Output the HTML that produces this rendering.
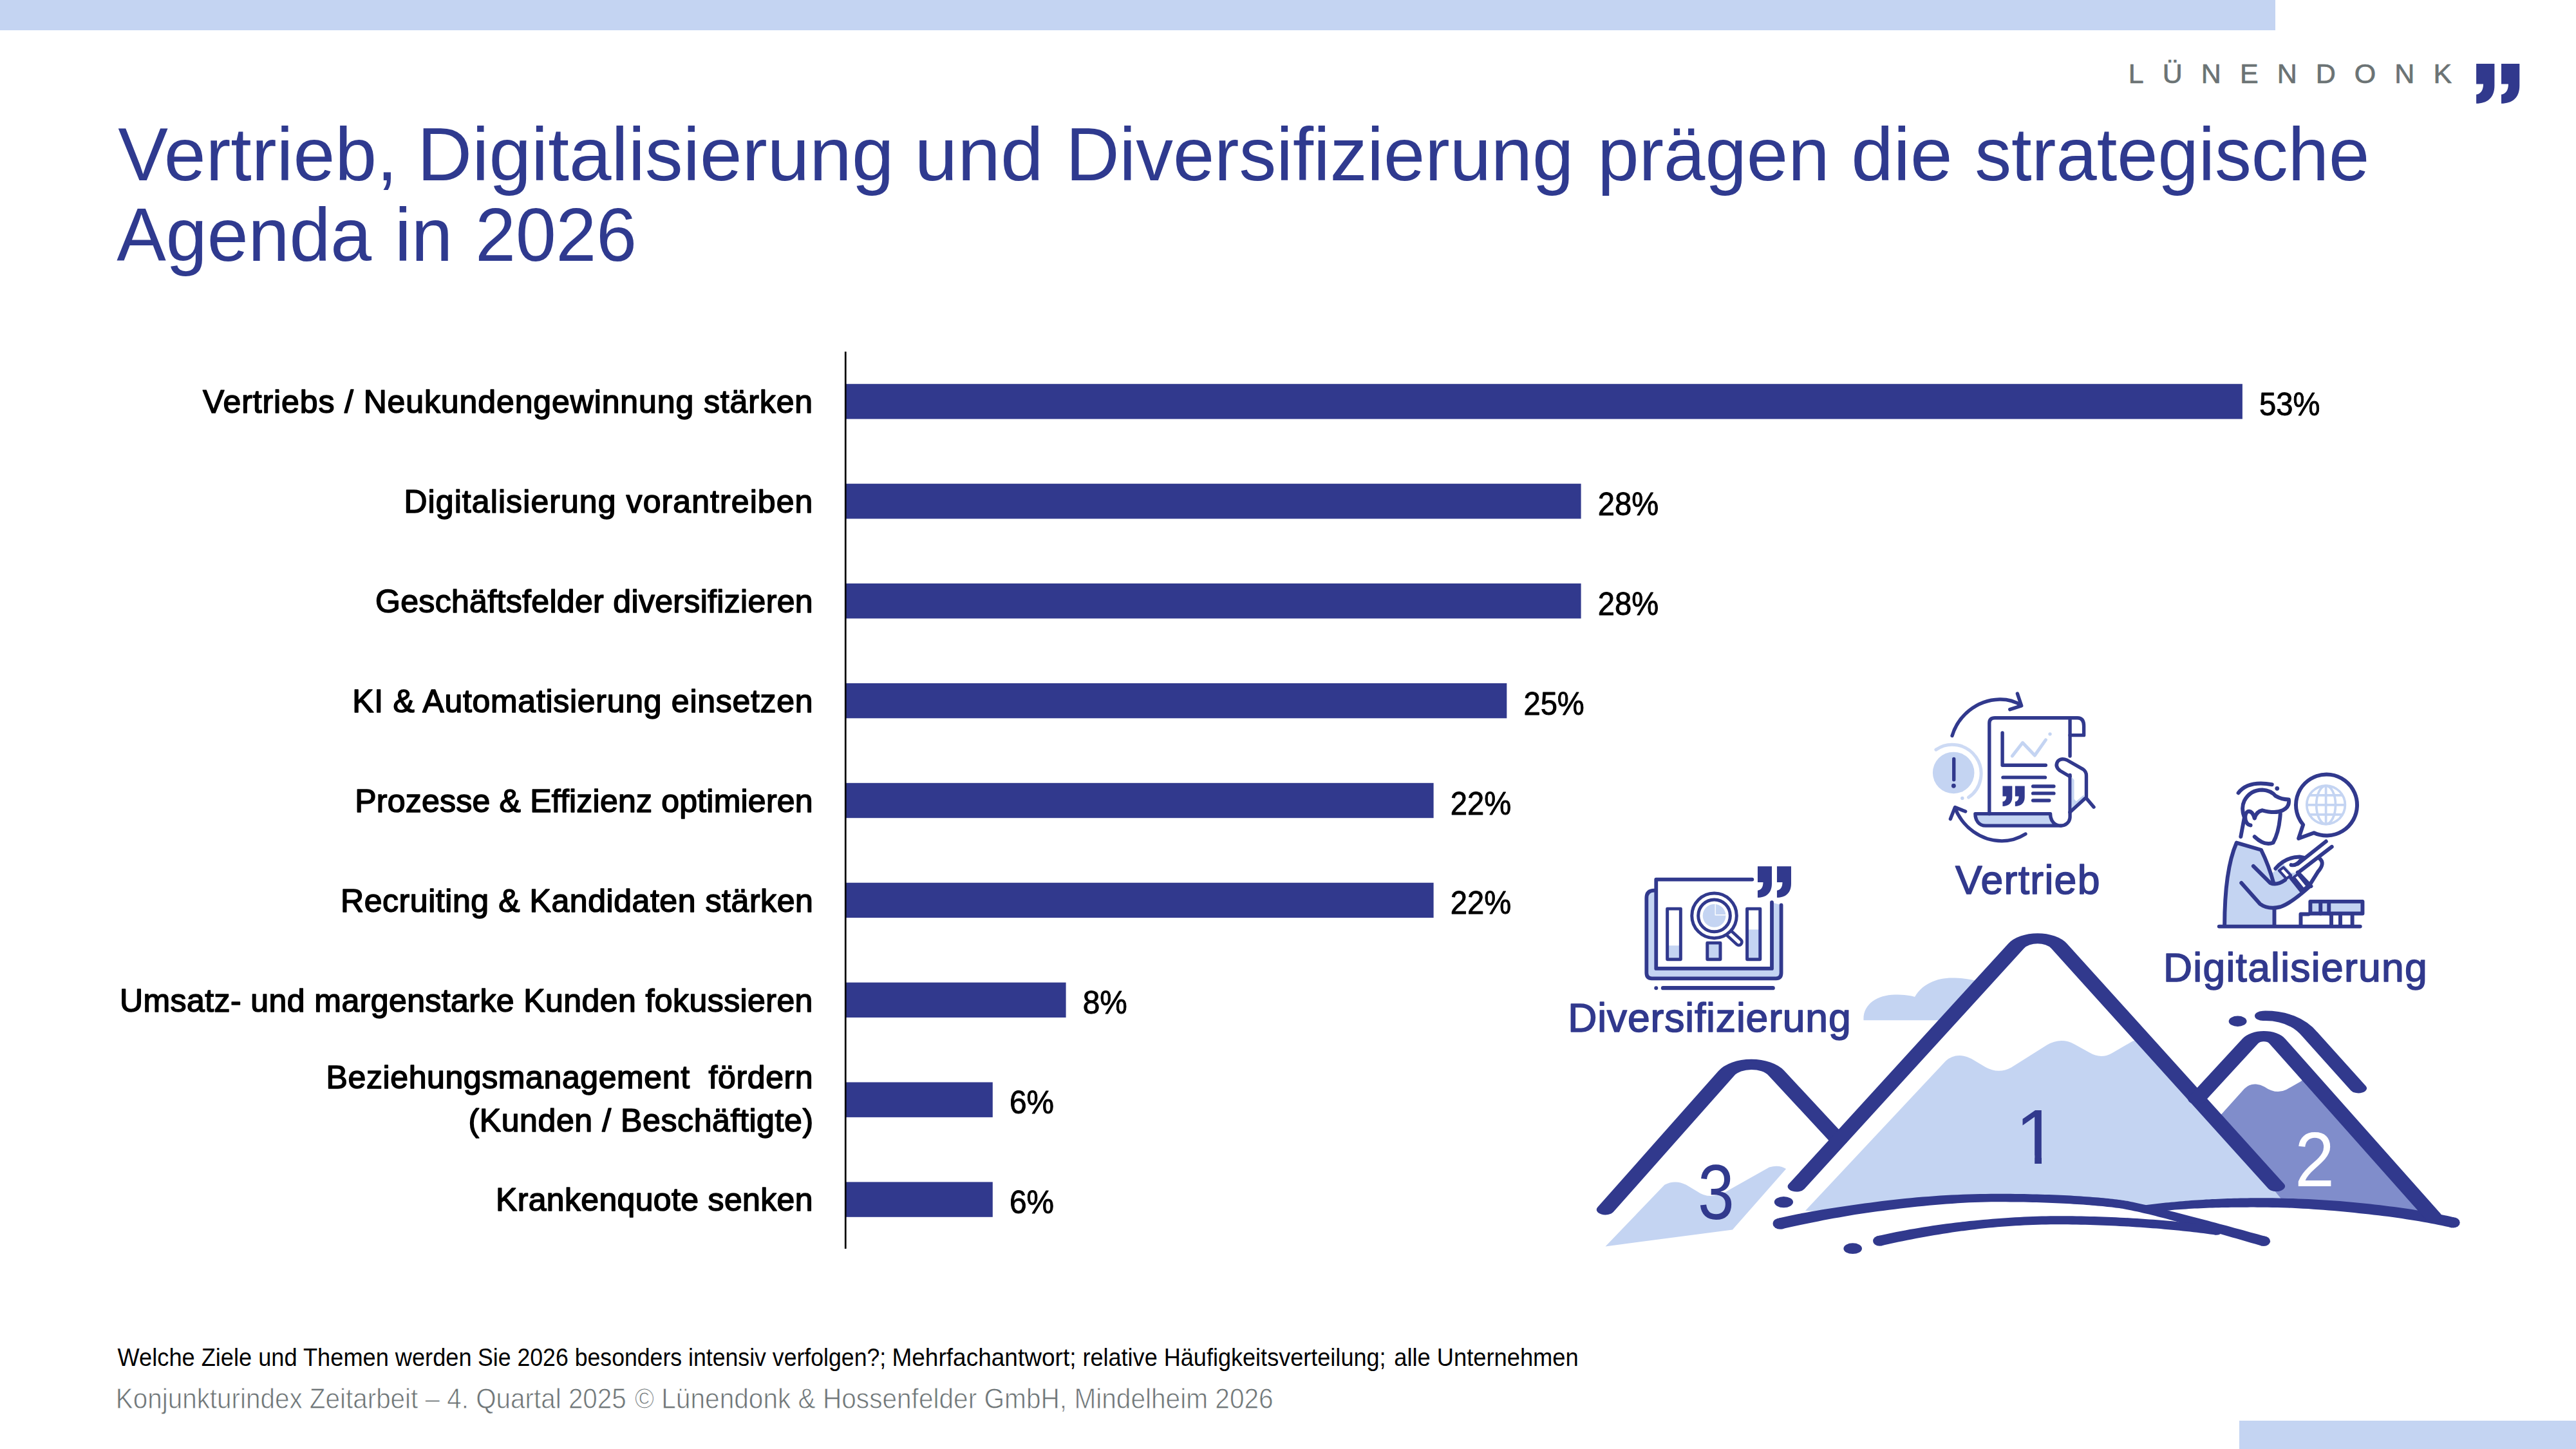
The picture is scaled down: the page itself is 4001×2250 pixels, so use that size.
<!DOCTYPE html>
<html lang="de"><head><meta charset="utf-8"><title>Lünendonk – Strategische Agenda 2026</title>
<style>html,body{margin:0;padding:0;background:#fff}body{width:4001px;height:2250px;overflow:hidden}svg{display:block;font-family:"Liberation Sans",sans-serif}</style></head><body>
<svg width="4001" height="2250" viewBox="0 0 4001 2250">
<rect x="0" y="0" width="3534" height="47" fill="#c4d4f2"/>
<rect x="3478" y="2206" width="523" height="44" fill="#c4d4f2"/>
<path fill="#31398d" d="M3846.10,99.00 L3874.40,99.00 L3874.40,132.94 C3874.40,152.00 3862.80,160.70 3846.10,160.70 L3846.10,146.63 C3852.89,145.77 3857.02,140.40 3857.02,130.47 L3846.10,130.47 Z"/>
<path fill="#31398d" d="M3885.00,99.00 L3913.30,99.00 L3913.30,132.94 C3913.30,152.00 3901.70,160.70 3885.00,160.70 L3885.00,146.63 C3891.79,145.77 3895.92,140.40 3895.92,130.47 L3885.00,130.47 Z"/>
<rect x="1313" y="596.2" width="2169.9" height="54.4" fill="#31398d"/>
<rect x="1313" y="751.1" width="1142.6" height="54.4" fill="#31398d"/>
<rect x="1313" y="906.0" width="1142.6" height="54.4" fill="#31398d"/>
<rect x="1313" y="1060.9" width="1027.3" height="54.4" fill="#31398d"/>
<rect x="1313" y="1215.8" width="913.6" height="54.4" fill="#31398d"/>
<rect x="1313" y="1370.7" width="913.6" height="54.4" fill="#31398d"/>
<rect x="1313" y="1525.6" width="342.6" height="54.4" fill="#31398d"/>
<rect x="1313" y="1680.5" width="228.8" height="54.4" fill="#31398d"/>
<rect x="1313" y="1835.4" width="228.8" height="54.4" fill="#31398d"/>
<rect x="1311.9" y="546" width="2.7" height="1393" fill="#000"/>
<g transform="scale(1.7,1)">
<path fill="#c4d4f2" d="M1702.65,1584.30C1701.76,1560.00 1714.71,1545.00 1731.18,1544.50C1740.00,1544.50 1745.88,1546.00 1749.41,1548.00C1755.88,1528.00 1769.41,1518.60 1783.53,1518.60C1794.12,1518.60 1801.18,1521.00 1810.59,1525.00L1779.41,1584.30Z"/>
<path fill="#fff" d="M1641.4,1842.4 L1842.0,1469.0 A22.3,22.3 0 0 1 1881.3,1469.0 L2079.6,1842.0 Z"/>
<path fill="#c4d4f2" d="M1649.41,1880.00L1777.65,1647.50Q1782.94,1639.00 1790.24,1639.00Q1795.29,1639.00 1801.18,1644.00L1813.71,1656.70Q1825.88,1668.50 1837.65,1657.50L1870.06,1622.80Q1882.94,1610.00 1895.29,1621.50L1909.12,1634.60Q1919.41,1645.00 1929.41,1635.50L1948.18,1616.90L1958.82,1610.00L2086.82,1861.30L2086.82,1866.00L2029.41,1868.50L1962.94,1876.00L1941.18,1870.60L1824.12,1860.00L1676.47,1882.00Z"/>
<path fill="#808dcb" d="M2021.18,1731.00L2029.41,1730.60L2050.59,1690.40Q2055.29,1682.50 2061.18,1683.50Q2065.29,1684.00 2068.82,1687.50Q2079.41,1700.00 2088.82,1692.00L2102.35,1679.00L2108.82,1668.00L2222.53,1888.00C2176.47,1872.00 2117.65,1865.50 2086.82,1867.00Z"/>
<path fill="#c4d4f2" d="M1466.76,1935.40L1520.82,1839.80Q1530.29,1831.00 1540.53,1839.80L1550.59,1850.00Q1563.53,1866.00 1581.47,1846.00L1616.47,1812.50Q1625.29,1808.00 1631.82,1815.00L1582.88,1909.40Z"/>
</g><path fill="#31398d" d="M2766.9,1908.5 L2773.5,1907.0 L2780.3,1905.5 L2787.2,1904.0 L2794.3,1902.5 L2801.5,1900.9 L2809.0,1899.4 L2816.5,1897.9 L2824.2,1896.4 L2832.0,1894.8 L2840.0,1893.3 L2848.1,1891.8 L2856.3,1890.4 L2864.5,1888.9 L2872.9,1887.5 L2881.4,1886.1 L2890.0,1884.8 L2898.6,1883.5 L2907.3,1882.3 L2916.1,1881.1 L2924.9,1879.9 L2933.8,1878.8 L2942.7,1877.7 L2951.7,1876.6 L2960.6,1875.6 L2969.6,1874.6 L2978.6,1873.6 L2987.5,1872.7 L2996.5,1871.8 L3005.5,1871.0 L3014.4,1870.3 L3023.3,1869.5 L3032.2,1868.9 L3041.0,1868.3 L3049.8,1867.8 L3058.5,1867.3 L3067.2,1867.0 L3075.8,1866.7 L3084.3,1866.4 L3092.7,1866.3 L3101.0,1866.3 L3108.4,1866.3 L3115.6,1866.3 L3122.7,1866.4 L3129.7,1866.4 L3136.6,1866.5 L3143.4,1866.6 L3150.1,1866.8 L3156.7,1866.9 L3163.1,1867.1 L3169.4,1867.3 L3175.7,1867.5 L3181.7,1867.7 L3187.7,1868.0 L3193.5,1868.2 L3199.3,1868.5 L3204.9,1868.8 L3210.3,1869.1 L3215.7,1869.3 L3220.9,1869.7 L3226.0,1870.0 L3230.9,1870.3 L3235.8,1870.6 L3240.5,1871.0 L3245.0,1871.3 L3249.4,1871.7 L3253.7,1872.0 L3257.9,1872.4 L3261.9,1872.8 L3265.8,1873.1 L3269.5,1873.5 L3273.1,1873.9 L3276.6,1874.3 L3279.9,1874.6 L3283.1,1875.0 L3286.1,1875.4 L3289.0,1875.8 L3291.7,1876.1 L3294.3,1876.5 L3296.7,1876.8 L3298.9,1877.2 L3302.6,1877.9 L3306.5,1878.7 L3310.6,1879.5 L3314.8,1880.4 L3319.1,1881.3 L3323.6,1882.3 L3328.2,1883.4 L3332.9,1884.5 L3337.7,1885.6 L3342.6,1886.8 L3347.6,1888.1 L3352.7,1889.4 L3358.0,1890.7 L3363.2,1892.1 L3368.6,1893.5 L3374.1,1895.0 L3379.6,1896.5 L3385.1,1898.0 L3390.8,1899.6 L3396.5,1901.1 L3402.2,1902.8 L3408.0,1904.4 L3413.8,1906.0 L3419.7,1907.7 L3425.5,1909.4 L3431.4,1911.1 L3437.4,1912.8 L3443.3,1914.5 L3449.3,1916.2 L3455.2,1918.0 L3461.2,1919.7 L3467.1,1921.4 L3473.0,1923.1 L3479.0,1924.8 L3484.9,1926.5 L3490.7,1928.2 L3496.6,1929.9 L3502.4,1931.5 L3508.2,1933.2 L3513.9,1934.8 L3518.1,1919.8 L3512.4,1918.2 L3506.6,1916.6 L3500.8,1915.0 L3494.9,1913.4 L3489.0,1911.8 L3483.1,1910.1 L3477.2,1908.5 L3471.2,1906.9 L3465.2,1905.2 L3459.2,1903.6 L3453.2,1902.0 L3447.2,1900.4 L3441.3,1898.8 L3435.3,1897.2 L3429.3,1895.6 L3423.4,1894.0 L3417.5,1892.5 L3411.7,1890.9 L3405.8,1889.4 L3400.0,1887.9 L3394.3,1886.4 L3388.6,1884.9 L3383.0,1883.5 L3377.4,1882.1 L3371.9,1880.7 L3366.5,1879.3 L3361.2,1878.0 L3355.9,1876.7 L3350.8,1875.4 L3345.7,1874.2 L3340.7,1873.0 L3335.9,1871.8 L3331.1,1870.7 L3326.5,1869.7 L3321.9,1868.7 L3317.5,1867.7 L3313.2,1866.8 L3309.1,1865.9 L3305.1,1865.1 L3301.1,1864.4 L3298.6,1864.0 L3296.1,1863.7 L3293.5,1863.3 L3290.7,1862.9 L3287.7,1862.5 L3284.6,1862.2 L3281.4,1861.8 L3278.0,1861.4 L3274.5,1861.0 L3270.8,1860.7 L3267.0,1860.3 L3263.1,1859.9 L3259.0,1859.6 L3254.8,1859.2 L3250.5,1858.9 L3246.0,1858.5 L3241.4,1858.2 L3236.6,1857.9 L3231.8,1857.5 L3226.8,1857.2 L3221.6,1856.9 L3216.4,1856.6 L3211.0,1856.3 L3205.5,1856.1 L3199.9,1855.8 L3194.1,1855.6 L3188.2,1855.3 L3182.2,1855.1 L3176.1,1854.9 L3169.8,1854.7 L3163.5,1854.5 L3157.0,1854.4 L3150.4,1854.2 L3143.7,1854.1 L3136.8,1854.0 L3129.9,1853.9 L3122.8,1853.8 L3115.7,1853.8 L3108.4,1853.8 L3101.0,1853.7 L3092.6,1853.8 L3084.0,1853.9 L3075.4,1854.0 L3066.8,1854.2 L3058.0,1854.5 L3049.2,1854.8 L3040.3,1855.2 L3031.4,1855.6 L3022.4,1856.1 L3013.4,1856.6 L3004.4,1857.2 L2995.3,1857.9 L2986.3,1858.6 L2977.2,1859.3 L2968.1,1860.2 L2959.1,1861.0 L2950.0,1862.0 L2941.0,1862.9 L2932.0,1864.0 L2923.1,1865.1 L2914.2,1866.2 L2905.3,1867.4 L2896.5,1868.6 L2887.8,1869.8 L2879.1,1871.0 L2870.6,1872.2 L2862.1,1873.4 L2853.7,1874.7 L2845.4,1876.0 L2837.2,1877.3 L2829.1,1878.6 L2821.2,1880.0 L2813.4,1881.3 L2805.7,1882.7 L2798.2,1884.1 L2790.8,1885.6 L2783.6,1887.0 L2776.6,1888.5 L2769.7,1890.0 L2763.1,1891.5 Z"/><ellipse cx="2765.0" cy="1900.0" rx="11.4" ry="8.8" fill="#31398d"/><ellipse cx="3516.0" cy="1927.3" rx="10.1" ry="7.8" fill="#31398d"/><path fill="#31398d" d="M2921.2,1934.6 L2928.0,1933.1 L2934.7,1931.6 L2941.6,1930.1 L2948.4,1928.6 L2955.3,1927.2 L2962.2,1925.8 L2969.1,1924.4 L2976.1,1923.1 L2983.1,1921.8 L2990.1,1920.5 L2997.1,1919.3 L3004.1,1918.1 L3011.1,1916.9 L3018.1,1915.8 L3025.2,1914.7 L3032.2,1913.6 L3039.3,1912.6 L3046.3,1911.6 L3053.4,1910.7 L3060.5,1909.8 L3067.5,1908.9 L3074.6,1908.1 L3081.6,1907.3 L3088.6,1906.6 L3095.6,1905.9 L3102.6,1905.3 L3109.6,1904.7 L3116.6,1904.2 L3123.5,1903.7 L3130.5,1903.3 L3137.4,1902.9 L3144.2,1902.5 L3151.1,1902.2 L3157.9,1902.0 L3164.7,1901.7 L3171.4,1901.5 L3178.1,1901.4 L3184.8,1901.3 L3191.4,1901.2 L3198.0,1901.2 L3204.9,1901.3 L3211.7,1901.3 L3218.6,1901.4 L3225.4,1901.5 L3232.2,1901.7 L3239.0,1901.8 L3245.8,1902.0 L3252.6,1902.2 L3259.3,1902.5 L3266.0,1902.7 L3272.7,1903.0 L3279.3,1903.3 L3285.9,1903.6 L3292.5,1903.9 L3299.0,1904.2 L3305.5,1904.6 L3311.9,1905.0 L3318.3,1905.4 L3324.6,1905.8 L3330.9,1906.2 L3337.1,1906.7 L3343.3,1907.2 L3349.4,1907.6 L3355.5,1908.1 L3361.5,1908.7 L3367.4,1909.2 L3373.3,1909.7 L3379.0,1910.3 L3384.8,1910.8 L3390.4,1911.4 L3395.9,1912.0 L3401.4,1912.6 L3406.8,1913.2 L3412.1,1913.8 L3417.3,1914.4 L3422.5,1915.1 L3427.5,1915.7 L3432.5,1916.4 L3437.3,1917.0 L3442.1,1917.7 L3443.9,1904.3 L3439.1,1903.6 L3434.2,1903.0 L3429.2,1902.3 L3424.2,1901.7 L3419.0,1901.0 L3413.7,1900.4 L3408.3,1899.8 L3402.9,1899.2 L3397.4,1898.6 L3391.8,1898.0 L3386.1,1897.4 L3380.3,1896.9 L3374.5,1896.3 L3368.6,1895.8 L3362.6,1895.3 L3356.6,1894.8 L3350.5,1894.3 L3344.3,1893.8 L3338.1,1893.4 L3331.8,1892.9 L3325.5,1892.5 L3319.1,1892.1 L3312.7,1891.7 L3306.2,1891.3 L3299.7,1891.0 L3293.1,1890.7 L3286.5,1890.3 L3279.9,1890.0 L3273.2,1889.8 L3266.5,1889.5 L3259.7,1889.3 L3253.0,1889.1 L3246.2,1888.9 L3239.3,1888.7 L3232.5,1888.6 L3225.6,1888.4 L3218.7,1888.3 L3211.9,1888.3 L3204.9,1888.2 L3198.0,1888.2 L3191.3,1888.2 L3184.6,1888.3 L3177.9,1888.4 L3171.1,1888.5 L3164.3,1888.7 L3157.4,1889.0 L3150.5,1889.2 L3143.6,1889.5 L3136.7,1889.9 L3129.7,1890.3 L3122.7,1890.7 L3115.7,1891.2 L3108.6,1891.7 L3101.6,1892.2 L3094.5,1892.8 L3087.4,1893.4 L3080.3,1894.0 L3073.2,1894.7 L3066.0,1895.4 L3058.9,1896.1 L3051.7,1896.9 L3044.6,1897.7 L3037.4,1898.5 L3030.3,1899.4 L3023.1,1900.3 L3016.0,1901.3 L3008.9,1902.3 L3001.7,1903.3 L2994.6,1904.4 L2987.5,1905.5 L2980.4,1906.7 L2973.3,1907.9 L2966.3,1909.1 L2959.2,1910.4 L2952.2,1911.7 L2945.3,1913.1 L2938.3,1914.5 L2931.4,1916.0 L2924.5,1917.5 L2917.6,1919.0 Z"/><ellipse cx="2919.4" cy="1926.8" rx="10.4" ry="8.0" fill="#31398d"/><ellipse cx="3443.0" cy="1911.0" rx="8.8" ry="6.8" fill="#31398d"/><path fill="#31398d" d="M3811.9,1890.4 L3806.8,1889.2 L3801.6,1888.0 L3796.2,1886.9 L3790.5,1885.7 L3784.7,1884.6 L3778.8,1883.5 L3772.7,1882.4 L3766.4,1881.3 L3759.9,1880.2 L3753.4,1879.2 L3746.6,1878.1 L3739.8,1877.1 L3732.8,1876.1 L3725.7,1875.1 L3718.5,1874.1 L3711.2,1873.2 L3703.8,1872.2 L3696.4,1871.3 L3688.8,1870.5 L3681.1,1869.6 L3673.4,1868.8 L3665.6,1867.9 L3657.8,1867.2 L3649.9,1866.4 L3641.9,1865.8 L3634.0,1865.1 L3626.0,1864.5 L3617.9,1863.9 L3609.9,1863.4 L3601.8,1862.9 L3593.7,1862.5 L3585.7,1862.1 L3577.6,1861.7 L3569.6,1861.4 L3561.6,1861.1 L3553.6,1860.9 L3545.6,1860.7 L3537.7,1860.5 L3529.9,1860.3 L3522.1,1860.3 L3516.7,1860.2 L3511.3,1860.2 L3506.0,1860.2 L3500.7,1860.3 L3495.5,1860.3 L3490.3,1860.4 L3485.2,1860.5 L3480.1,1860.6 L3475.0,1860.7 L3470.0,1860.8 L3465.0,1860.9 L3460.1,1861.1 L3455.2,1861.3 L3450.3,1861.5 L3445.5,1861.7 L3440.7,1861.9 L3435.9,1862.1 L3431.2,1862.4 L3426.5,1862.6 L3421.8,1862.9 L3417.2,1863.2 L3412.6,1863.5 L3408.0,1863.8 L3403.4,1864.1 L3398.9,1864.5 L3394.4,1864.8 L3390.0,1865.2 L3385.5,1865.6 L3381.1,1866.0 L3376.8,1866.4 L3372.4,1866.8 L3368.1,1867.2 L3363.8,1867.6 L3359.5,1868.1 L3355.2,1868.6 L3351.0,1869.0 L3346.8,1869.5 L3342.6,1870.0 L3338.4,1870.5 L3334.3,1871.0 L3335.7,1883.0 L3339.9,1882.4 L3344.0,1881.9 L3348.1,1881.5 L3352.3,1881.0 L3356.5,1880.6 L3360.7,1880.1 L3365.0,1879.7 L3369.2,1879.4 L3373.5,1879.0 L3377.8,1878.6 L3382.2,1878.3 L3386.5,1878.0 L3390.9,1877.7 L3395.3,1877.4 L3399.8,1877.1 L3404.3,1876.8 L3408.8,1876.6 L3413.3,1876.4 L3417.9,1876.2 L3422.5,1876.0 L3427.1,1875.8 L3431.7,1875.6 L3436.4,1875.5 L3441.2,1875.3 L3445.9,1875.2 L3450.7,1875.1 L3455.6,1875.0 L3460.4,1874.9 L3465.3,1874.8 L3470.3,1874.8 L3475.3,1874.7 L3480.3,1874.7 L3485.3,1874.7 L3490.4,1874.7 L3495.6,1874.6 L3500.8,1874.6 L3506.0,1874.7 L3511.3,1874.7 L3516.6,1874.7 L3521.9,1874.7 L3529.6,1874.9 L3537.4,1875.0 L3545.2,1875.2 L3553.1,1875.5 L3561.0,1875.8 L3568.9,1876.2 L3576.9,1876.7 L3584.8,1877.1 L3592.8,1877.7 L3600.8,1878.2 L3608.8,1878.8 L3616.8,1879.5 L3624.7,1880.1 L3632.7,1880.8 L3640.6,1881.6 L3648.4,1882.3 L3656.2,1883.1 L3664.0,1883.9 L3671.7,1884.7 L3679.4,1885.5 L3686.9,1886.4 L3694.4,1887.3 L3701.9,1888.2 L3709.2,1889.1 L3716.4,1890.1 L3723.5,1891.1 L3730.5,1892.1 L3737.4,1893.2 L3744.1,1894.2 L3750.8,1895.3 L3757.2,1896.3 L3763.6,1897.4 L3769.8,1898.5 L3775.8,1899.7 L3781.6,1900.8 L3787.3,1901.9 L3792.8,1903.0 L3798.1,1904.2 L3803.2,1905.3 L3808.1,1906.4 Z"/><ellipse cx="3810.0" cy="1898.4" rx="10.7" ry="8.2" fill="#31398d"/><ellipse cx="3335.0" cy="1877.0" rx="7.8" ry="6.0" fill="#31398d"/><g transform="scale(1.7,1)">
<path fill="none" stroke="#31398d" stroke-linecap="round" stroke-linejoin="round" stroke-width="16.2" d="M1466.8,1878.3 L1577.2,1666.7 A26,26 0 0 1 1623.0,1666.3 L1679.9,1770.5"/>
<path fill="none" stroke="#31398d" stroke-linecap="round" stroke-linejoin="round" stroke-width="16.2" d="M1641.4,1842.4 L1842.0,1469.0 A22.3,22.3 0 0 1 1881.3,1469.0 L2079.6,1842.0"/>
<path fill="none" stroke="#31398d" stroke-linecap="round" stroke-linejoin="round" stroke-width="16.2" d="M2007.1,1706.6 L2056.0,1616.5 A13.9,13.9 0 0 1 2080.6,1616.7 L2222.5,1888.0"/>
<path fill="none" stroke="#31398d" stroke-linecap="round" stroke-linejoin="round" stroke-width="15.3" d="M2067.65,1577.30C2085.29,1576.50 2100.59,1586.00 2110.88,1607.00L2154.71,1689.80"/>
<circle cx="1629.65" cy="1866.6" r="8.6" fill="#31398d"/>
<circle cx="1692.76" cy="1938.7" r="8.4" fill="#31398d"/>
<circle cx="2044.47" cy="1585.7" r="8.2" fill="#31398d"/>
</g>
<g transform="translate(2530,1320) scale(0.16567)">
<path fill="#c4d4f2" d="M238,378 Q165,378 165,450 V1150 Q165,1203 215,1203 H1380 Q1428,1203 1428,1150 V515 L1340,490 V378 Z"/>
<rect x="255" y="275" width="1085" height="835" fill="#fff"/>
<path fill="none" stroke="#31398d" stroke-linecap="round" stroke-linejoin="round" stroke-width="35" d="M238,378 Q165,378 165,450 V1150 Q165,1203 215,1203 H1380 Q1428,1203 1428,1150 V515"/>
<path fill="none" stroke="#31398d" stroke-linecap="round" stroke-linejoin="round" stroke-width="35" d="M1155,275 H255 V1110 H1340 V490"/>
<rect x="360" y="895" width="125" height="130" fill="#c4d4f2"/>
<rect x="735" y="870" width="122" height="155" fill="#c4d4f2"/>
<rect x="1108" y="745" width="122" height="280" fill="#c4d4f2"/>
<rect fill="none" stroke="#31398d" stroke-linecap="round" stroke-linejoin="round" stroke-width="30" x="360" y="550" width="125" height="475"/>
<rect fill="none" stroke="#31398d" stroke-linecap="round" stroke-linejoin="round" stroke-width="30" x="735" y="870" width="122" height="155"/>
<rect fill="none" stroke="#31398d" stroke-linecap="round" stroke-linejoin="round" stroke-width="30" x="1108" y="550" width="122" height="475"/>
<path fill="none" stroke="#31398d" stroke-linecap="round" stroke-linejoin="round" stroke-width="86" d="M930,770 L1030,862"/>
<path fill="none" stroke="#fff" stroke-linecap="round" stroke-width="30" d="M930,770 L1030,862"/>
<circle cx="800" cy="615" r="210" fill="#fff" stroke="#31398d" stroke-width="30"/>
<circle cx="800" cy="615" r="150" fill="#fff" stroke="#31398d" stroke-width="30"/>
<circle cx="800" cy="615" r="108" fill="#c4d4f2"/>
<path fill="none" stroke="#fff" stroke-width="8" d="M810,508 V608 H908"/>
<path fill="#31398d" d="M1207.00,152.00 L1340.00,152.00 L1340.00,313.15 C1340.00,403.69 1285.47,445.00 1207.00,445.00 L1207.00,378.20 C1238.92,374.09 1258.34,348.60 1258.34,301.43 L1207.00,301.43 Z"/>
<path fill="#31398d" d="M1388.00,152.00 L1521.00,152.00 L1521.00,313.15 C1521.00,403.69 1466.47,445.00 1388.00,445.00 L1388.00,378.20 C1419.92,374.09 1439.34,348.60 1439.34,301.43 L1388.00,301.43 Z"/>
<path fill="none" stroke="#31398d" stroke-linecap="round" stroke-linejoin="round" stroke-width="38" d="M320,1293 H1350"/>
<circle cx="255" cy="1293" r="18" fill="#31398d"/>
</g>
<g transform="translate(2980,1060) scale(0.17944)">
<path fill="none" stroke="#31398d" stroke-linecap="round" stroke-linejoin="round" stroke-width="30" d="M290,460 C340,290 500,150 700,145 C770,143 830,160 885,195"/>
<path fill="none" stroke="#31398d" stroke-linecap="round" stroke-linejoin="round" stroke-width="30" d="M855,95 L890,200 L790,232"/>
<path fill="none" stroke="#31398d" stroke-linecap="round" stroke-linejoin="round" stroke-width="30" d="M315,1085 C380,1250 540,1370 720,1370 C800,1370 870,1345 925,1310"/>
<path fill="none" stroke="#31398d" stroke-linecap="round" stroke-linejoin="round" stroke-width="30" d="M275,1180 L315,1078 L405,1115"/>
<circle cx="302" cy="780" r="180" fill="#c4d4f2"/>
<path fill="none" stroke="#c4d4f2" stroke-linecap="round" stroke-linejoin="round" stroke-width="28" stroke-opacity="0.85" d="M150,580 A250,250 0 1 1 432,993"/>
<circle cx="378" cy="1000" r="15" fill="#c4d4f2"/>
<path fill="none" stroke="#31398d" stroke-linecap="round" stroke-linejoin="round" stroke-width="30" d="M305,660 V840"/>
<circle cx="303" cy="893" r="19" fill="#31398d"/>
<path fill="#c4d4f2" stroke="#31398d" stroke-width="30" stroke-linejoin="round" d="M490,1135 H1140 C1140,1200 1180,1238 1230,1238 H580 C520,1238 490,1190 490,1135 Z"/>
<path fill="none" stroke="#31398d" stroke-linecap="round" stroke-linejoin="round" stroke-width="30" d="M612,1135 V350 Q612,305 660,305 H1375 Q1430,305 1430,375 V455 H1310 V320"/>
<path fill="none" stroke="#31398d" stroke-linecap="round" stroke-linejoin="round" stroke-width="30" d="M1310,455 V635"/>
<path fill="none" stroke="#31398d" stroke-linecap="round" stroke-linejoin="round" stroke-width="30" d="M1310,800 V1160 C1310,1210 1270,1238 1230,1238"/>
<path fill="none" stroke="#31398d" stroke-linecap="round" stroke-linejoin="round" stroke-width="30" d="M725,435 V715 H1100"/>
<path fill="none" stroke="#c4d4f2" stroke-linecap="round" stroke-linejoin="round" stroke-width="28" d="M810,635 L900,520 L1005,630 L1100,495"/>
<circle cx="1137" cy="445" r="15" fill="#c4d4f2"/>
<path fill="none" stroke="#31398d" stroke-linecap="round" stroke-linejoin="round" stroke-width="30" d="M730,820 H1095"/>
<path fill="#31398d" d="M727.00,895.00 L810.00,895.00 L810.00,991.25 C810.00,1045.33 775.97,1070.00 727.00,1070.00 L727.00,1030.10 C746.92,1027.65 759.04,1012.42 759.04,984.25 L727.00,984.25 Z"/>
<path fill="#31398d" d="M835.00,895.00 L918.00,895.00 L918.00,991.25 C918.00,1045.33 883.97,1070.00 835.00,1070.00 L835.00,1030.10 C854.92,1027.65 867.04,1012.42 867.04,984.25 L835.00,984.25 Z"/>
<path fill="none" stroke="#31398d" stroke-linecap="round" stroke-linejoin="round" stroke-width="30" d="M990,897 H1170 M990,958 H1170 M990,1020 H1130"/>
<path fill="#c4d4f2" d="M1324,817 L1346,842 L1346,1007 L1364,1027 L1431,970 L1431,1000 L1324,1100 Z"/>
<path fill="none" stroke="#31398d" stroke-linecap="round" stroke-linejoin="round" stroke-width="30" d="M1309,812 L1224,762 Q1175,725 1205,680 Q1235,650 1284,670 L1419,747 Q1452,768 1451.5,805 L1451.5,992 L1309,1122"/>
<path fill="none" stroke="#31398d" stroke-linecap="round" stroke-linejoin="round" stroke-width="30" d="M1451.5,1000 L1516,1077"/>
</g>
<g transform="translate(3430,1180) scale(0.18632)">
<path fill="#c4d4f2" d="M135,1385 C135,1100 165,850 235,690 L440,750 L529,946 L625,866 L690,940 L745,940 L856,1053 L700,1180 C640,1225 590,1235 550,1235 V1385 Z"/>
<path fill="none" stroke="#31398d" stroke-linecap="round" stroke-linejoin="round" stroke-width="32" d="M135,1385 C135,1100 165,850 235,690 L440,750 C480,830 515,920 545,1030"/>
<path fill="none" stroke="#31398d" stroke-linecap="round" stroke-linejoin="round" stroke-width="32" d="M375,885 L515,1025 Q570,1050 640,1000"/>
<path fill="none" stroke="#31398d" stroke-linecap="round" stroke-linejoin="round" stroke-width="32" d="M275,1025 L430,1200 Q500,1250 600,1225 Q690,1195 850,1050"/>
<path fill="none" stroke="#31398d" stroke-linecap="round" stroke-linejoin="round" stroke-width="32" d="M550,1240 V1385"/>
<path fill="#fff" stroke="#31398d" stroke-width="22" stroke-linejoin="round" d="M590,922 L626,896 L688,962 L650,990 Z"/>
<path fill="#fff" stroke="#31398d" stroke-width="22" stroke-linejoin="round" d="M712,978 L746,952 L826,1052 L792,1078 Z"/>
<path fill="none" stroke="#31398d" stroke-linecap="round" stroke-linejoin="round" stroke-width="32" d="M687,982 L776,1093 M745,937 L856,1053"/>
<path fill="none" stroke="#31398d" stroke-linecap="round" stroke-linejoin="round" stroke-width="32" d="M560,905 Q640,810 760,808 L800,815"/>
<path fill="none" stroke="#31398d" stroke-linecap="round" stroke-linejoin="round" stroke-width="32" d="M690,875 Q730,885 767,840"/>
<path fill="none" stroke="#31398d" stroke-linecap="round" stroke-linejoin="round" stroke-width="32" d="M745,866 L981,679"/>
<path fill="none" stroke="#31398d" stroke-linecap="round" stroke-linejoin="round" stroke-width="32" d="M763,928 L1029,724"/>
<path fill="none" stroke="#31398d" stroke-linecap="round" stroke-linejoin="round" stroke-width="32" d="M927,822 Q975,860 915,930 L838,1053"/>
<path fill="none" stroke="#31398d" stroke-linecap="round" stroke-linejoin="round" stroke-width="32" d="M385,485 Q400,430 450,420 Q560,450 620,420 Q680,390 670,330 Q610,330 560,300 Q520,255 450,250 Q350,250 300,340 Q270,400 300,480 L270,640"/>
<path fill="none" stroke="#31398d" stroke-linecap="round" stroke-linejoin="round" stroke-width="32" d="M385,485 Q365,420 328,430 Q300,450 310,500 Q320,540 352,545"/>
<path fill="none" stroke="#31398d" stroke-linecap="round" stroke-linejoin="round" stroke-width="32" d="M600,450 Q590,600 540,690 Q470,720 385,640"/>
<path fill="none" stroke="#31398d" stroke-linecap="round" stroke-linejoin="round" stroke-width="32" d="M250,275 Q330,170 530,205"/>
<circle cx="573" cy="238" r="18" fill="#31398d"/>
<path fill="none" stroke="#31398d" stroke-linecap="round" stroke-linejoin="round" stroke-width="32" d="M790,540 A255,255 0 1 1 880,608 L752,655 Z"/>
<circle cx="980" cy="375" r="160" fill="none" stroke="#c4d4f2" stroke-width="20"/>
<ellipse cx="980" cy="375" rx="80" ry="160" fill="none" stroke="#c4d4f2" stroke-width="20"/>
<path fill="none" stroke="#c4d4f2" stroke-width="20" d="M980,215 V535 M820,375 H1140 M841,295 H1119 M841,455 H1119"/>
<rect x="850" y="1180" width="435" height="100" fill="#c4d4f2" stroke="#31398d" stroke-width="32" stroke-linejoin="round"/>
<path fill="none" stroke="#31398d" stroke-linecap="round" stroke-linejoin="round" stroke-width="32" d="M935,1180 V1280 M1005,1180 V1280"/>
<path fill="none" stroke="#31398d" stroke-linecap="round" stroke-linejoin="round" stroke-width="32" d="M835,1285 H770 V1385 M1200,1295 V1385 M1025,1295 V1385 M1100,1295 V1385"/>
<path fill="none" stroke="#31398d" stroke-linecap="round" stroke-linejoin="round" stroke-width="32" d="M90,1388 H1265"/>
</g>
<text transform="translate(183.30,279.60) scale(0.9995,1)" font-size="116.67" font-weight="400" fill="#2f3a8f" xml:space="preserve">Vertrieb,</text>
<text transform="translate(648.11,279.60) scale(1.0105,1)" font-size="116.67" font-weight="400" fill="#2f3a8f" xml:space="preserve">Digitalisierung</text>
<text transform="translate(1420.50,279.60) scale(1.0283,1)" font-size="116.67" font-weight="400" fill="#2f3a8f" xml:space="preserve">und</text>
<text transform="translate(1655.19,279.60) scale(0.9896,1)" font-size="116.67" font-weight="400" fill="#2f3a8f" xml:space="preserve">Diversifizierung</text>
<text transform="translate(2481.26,279.60) scale(0.9917,1)" font-size="116.67" font-weight="400" fill="#2f3a8f" xml:space="preserve">prägen</text>
<text transform="translate(2875.15,279.60) scale(1.0103,1)" font-size="116.67" font-weight="400" fill="#2f3a8f" xml:space="preserve">die</text>
<text transform="translate(3067.18,279.60) scale(0.9746,1)" font-size="116.67" font-weight="400" fill="#2f3a8f" xml:space="preserve">strategische</text>
<text transform="translate(181.22,405.30) scale(0.9845,1)" font-size="116.67" font-weight="400" fill="#2f3a8f" xml:space="preserve">Agenda</text>
<text transform="translate(612.95,405.30) scale(0.9933,1)" font-size="116.67" font-weight="400" fill="#2f3a8f" xml:space="preserve">in</text>
<text transform="translate(738.20,405.30) scale(0.9663,1)" font-size="116.67" font-weight="400" fill="#2f3a8f" xml:space="preserve">2026</text>
<text transform="translate(3305.80,129.00) scale(1.0004,1)" font-size="43" font-weight="400" fill="#6b7374" stroke="#6b7374" stroke-width="0.7" stroke-linejoin="round" letter-spacing="29.025" xml:space="preserve">LÜNENDONK</text>
<text transform="translate(315.00,641.10) scale(0.9995,1)" font-size="50" font-weight="400" fill="#000" stroke="#000" stroke-width="1.6" stroke-linejoin="round" letter-spacing="0.905" xml:space="preserve">Vertriebs / Neukundengewinnung stärken</text>
<text transform="translate(627.40,796.00) scale(0.9986,1)" font-size="50" font-weight="400" fill="#000" stroke="#000" stroke-width="1.6" stroke-linejoin="round" letter-spacing="1.115" xml:space="preserve">Digitalisierung vorantreiben</text>
<text transform="translate(583.00,950.90) scale(0.9993,1)" font-size="50" font-weight="400" fill="#000" stroke="#000" stroke-width="1.6" stroke-linejoin="round" letter-spacing="0.35" xml:space="preserve">Geschäftsfelder diversifizieren</text>
<text transform="translate(547.20,1105.80) scale(0.9990,1)" font-size="50" font-weight="400" fill="#000" stroke="#000" stroke-width="1.6" stroke-linejoin="round" letter-spacing="0.734" xml:space="preserve">KI &amp; Automatisierung einsetzen</text>
<text transform="translate(551.30,1260.70) scale(1.0003,1)" font-size="50" font-weight="400" fill="#000" stroke="#000" stroke-width="1.6" stroke-linejoin="round" letter-spacing="0.207" xml:space="preserve">Prozesse &amp; Effizienz optimieren</text>
<text transform="translate(529.00,1415.60) scale(1.0007,1)" font-size="50" font-weight="400" fill="#000" stroke="#000" stroke-width="1.6" stroke-linejoin="round" letter-spacing="0.55" xml:space="preserve">Recruiting &amp; Kandidaten stärken</text>
<text transform="translate(186.00,1570.50) scale(0.9995,1)" font-size="50" font-weight="400" fill="#000" stroke="#000" stroke-width="1.6" stroke-linejoin="round" letter-spacing="0.44" xml:space="preserve">Umsatz- und margenstarke Kunden fokussieren</text>
<text transform="translate(770.00,1880.30) scale(0.9990,1)" font-size="50" font-weight="400" fill="#000" stroke="#000" stroke-width="1.6" stroke-linejoin="round" letter-spacing="0.361" xml:space="preserve">Krankenquote senken</text>
<text transform="translate(506.60,1690.00) scale(0.9999,1)" font-size="50" font-weight="400" fill="#000" stroke="#000" stroke-width="1.6" stroke-linejoin="round" letter-spacing="0.604" xml:space="preserve">Beziehungsmanagement  fördern</text>
<text transform="translate(727.50,1757.00) scale(1.0000,1)" font-size="50" font-weight="400" fill="#000" stroke="#000" stroke-width="1.6" stroke-linejoin="round" letter-spacing="0.591" xml:space="preserve">(Kunden / Beschäftigte)</text>
<text transform="translate(3509.01,644.90) scale(0.9433,1)" font-size="50" font-weight="400" fill="#000" stroke="#000" stroke-width="0.9" stroke-linejoin="round" xml:space="preserve">53%</text>
<text transform="translate(2481.71,799.80) scale(0.9433,1)" font-size="50" font-weight="400" fill="#000" stroke="#000" stroke-width="0.9" stroke-linejoin="round" xml:space="preserve">28%</text>
<text transform="translate(2481.71,954.70) scale(0.9433,1)" font-size="50" font-weight="400" fill="#000" stroke="#000" stroke-width="0.9" stroke-linejoin="round" xml:space="preserve">28%</text>
<text transform="translate(2366.41,1109.60) scale(0.9433,1)" font-size="50" font-weight="400" fill="#000" stroke="#000" stroke-width="0.9" stroke-linejoin="round" xml:space="preserve">25%</text>
<text transform="translate(2252.71,1264.50) scale(0.9433,1)" font-size="50" font-weight="400" fill="#000" stroke="#000" stroke-width="0.9" stroke-linejoin="round" xml:space="preserve">22%</text>
<text transform="translate(2252.71,1419.40) scale(0.9433,1)" font-size="50" font-weight="400" fill="#000" stroke="#000" stroke-width="0.9" stroke-linejoin="round" xml:space="preserve">22%</text>
<text transform="translate(1681.69,1574.30) scale(0.9565,1)" font-size="50" font-weight="400" fill="#000" stroke="#000" stroke-width="0.9" stroke-linejoin="round" xml:space="preserve">8%</text>
<text transform="translate(1567.89,1729.20) scale(0.9565,1)" font-size="50" font-weight="400" fill="#000" stroke="#000" stroke-width="0.9" stroke-linejoin="round" xml:space="preserve">6%</text>
<text transform="translate(1567.89,1884.10) scale(0.9565,1)" font-size="50" font-weight="400" fill="#000" stroke="#000" stroke-width="0.9" stroke-linejoin="round" xml:space="preserve">6%</text>
<text transform="translate(3037.00,1387.50) scale(1.0000,1)" font-size="62.5" font-weight="400" fill="#31398d" stroke="#31398d" stroke-width="1.6" stroke-linejoin="round" letter-spacing="1.286" xml:space="preserve">Vertrieb</text>
<text transform="translate(3360.00,1523.70) scale(0.9990,1)" font-size="62.5" font-weight="400" fill="#31398d" stroke="#31398d" stroke-width="1.6" stroke-linejoin="round" letter-spacing="1.257" xml:space="preserve">Digitalisierung</text>
<text transform="translate(2435.20,1602.40) scale(1.0005,1)" font-size="62.5" font-weight="400" fill="#31398d" stroke="#31398d" stroke-width="1.6" stroke-linejoin="round" letter-spacing="0.813" xml:space="preserve">Diversifizierung</text>
<text transform="translate(2637.05,1892.50) scale(0.8491,1)" font-size="120" font-weight="400" fill="#31398d" xml:space="preserve">3</text>
<text transform="translate(3130.00,1807.00) scale(1.0000,1)" font-size="120" font-weight="400" fill="#31398d" xml:space="preserve">1</text>
<text transform="translate(3564.26,1841.50) scale(0.9236,1)" font-size="120" font-weight="400" fill="#fff" xml:space="preserve">2</text>
<text transform="translate(182.60,2120.60) scale(0.9405,1)" font-size="38.5" font-weight="400" fill="#000" xml:space="preserve">Welche Ziele und Themen werden</text>
<text transform="translate(742.05,2120.60) scale(0.9262,1)" font-size="38.5" font-weight="400" fill="#000" xml:space="preserve">Sie 2026 besonders intensiv verfolgen?;</text>
<text transform="translate(1385.41,2120.60) scale(0.9622,1)" font-size="38.5" font-weight="400" fill="#000" xml:space="preserve">Mehrfachantwort;</text>
<text transform="translate(1681.43,2120.60) scale(0.9373,1)" font-size="38.5" font-weight="400" fill="#000" xml:space="preserve">relative Häufigkeitsverteilung;</text>
<text transform="translate(2165.21,2120.60) scale(0.9430,1)" font-size="38.5" font-weight="400" fill="#000" xml:space="preserve">alle Unternehmen</text>
<text transform="translate(179.83,2186.70) scale(0.9187,1)" font-size="44" font-weight="400" fill="#6e7577" stroke="#fff" stroke-width="0.8" xml:space="preserve">Konjunkturindex Zeitarbeit – 4. Quartal 2025</text>
<text transform="translate(986.08,2186.70) scale(0.9234,1)" font-size="44" font-weight="400" fill="#6e7577" stroke="#fff" stroke-width="0.8" xml:space="preserve">© Lünendonk &amp; Hossenfelder GmbH, Mindelheim 2026</text>
<rect x="3135" y="1794" width="25.2" height="16" fill="#c4d4f2"/><rect x="3171" y="1794" width="26" height="16" fill="#c4d4f2"/>
</svg></body></html>
